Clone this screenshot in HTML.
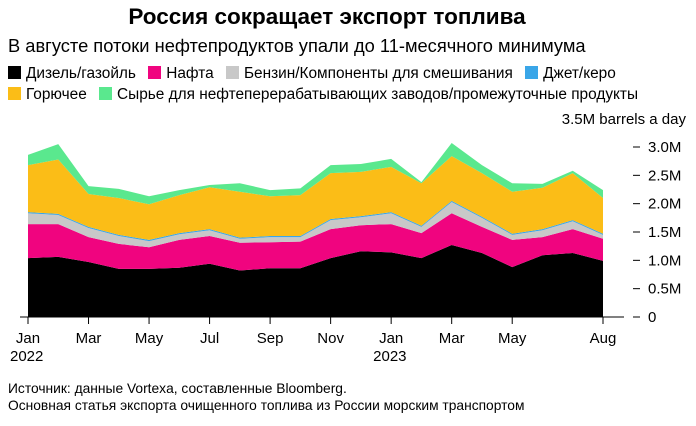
<!DOCTYPE html>
<html><head><meta charset="utf-8"><style>
body{margin:0;background:#fff;font-family:"Liberation Sans",sans-serif;}
#wrap{position:relative;width:696px;height:426px;overflow:hidden}
.t{position:absolute;white-space:nowrap;color:#000}
.sw{display:inline-block;width:13px;height:13px;vertical-align:-1px;margin-right:5px}
.leg{margin-right:8px}
</style></head><body><div id="wrap">
<div class="t" style="left:0;width:654px;text-align:center;top:4px;font-size:22.5px;font-weight:bold">Россия сокращает экспорт топлива</div>
<div class="t" style="left:8px;top:35px;font-size:18.3px">В августе потоки нефтепродуктов упали до 11-месячного минимума</div>
<div class="t" style="left:8px;top:63px;font-size:15.4px;line-height:21px">
<span class="leg"><span class="sw" style="background:#000"></span>Дизель/газойль</span>
<span class="leg"><span class="sw" style="background:#f0047f"></span>Нафта</span>
<span class="leg"><span class="sw" style="background:#c8c8c8"></span>Бензин/Компоненты для смешивания</span>
<span class="leg"><span class="sw" style="background:#3aa6e8"></span>Джет/керо</span><br>
<span class="leg"><span class="sw" style="background:#fbbd17"></span>Горючее</span>
<span class="leg"><span class="sw" style="background:#5ae88e"></span>Сырье для нефтеперерабатывающих заводов/промежуточные продукты</span>
</div>
<svg id="svg" width="696" height="426" style="position:absolute;left:0;top:0"></svg>
<div class="t" style="left:8px;top:380px;font-size:13.8px;line-height:17px">Источник: данные Vortexa, составленные Bloomberg.<br>Основная статья экспорта очищенного топлива из России морским транспортом</div>
</div>
<script>
const months=["Jan","","Mar","","May","","Jul","","Sep","","Nov","","Jan","","Mar","","May","","","Aug"];
const years=["2022","","","","","","","","","","","","2023","","","","","","",""];
const diesel=[1.04,1.06,0.97,0.85,0.85,0.87,0.94,0.82,0.86,0.86,1.04,1.16,1.14,1.04,1.27,1.13,0.88,1.09,1.13,0.99];
const naphtha=[0.60,0.58,0.44,0.44,0.38,0.49,0.49,0.49,0.46,0.47,0.51,0.46,0.50,0.44,0.56,0.46,0.48,0.32,0.42,0.39];
const gasoline=[0.19,0.16,0.16,0.14,0.11,0.10,0.10,0.07,0.09,0.08,0.16,0.14,0.19,0.11,0.20,0.16,0.09,0.12,0.14,0.07];
const jet=[0.02,0.02,0.02,0.02,0.02,0.02,0.02,0.02,0.02,0.02,0.02,0.02,0.02,0.02,0.02,0.02,0.02,0.02,0.02,0.02];
const fuelOil=[0.83,0.96,0.58,0.65,0.63,0.67,0.74,0.81,0.70,0.72,0.81,0.78,0.80,0.75,0.79,0.77,0.74,0.73,0.83,0.63];
const feedstock=[0.18,0.27,0.14,0.16,0.14,0.09,0.04,0.15,0.11,0.12,0.14,0.14,0.14,0.02,0.23,0.14,0.15,0.07,0.04,0.14];
const yTicks=[0,0.5,1,1.5,2,2.5,3];
const yLabels=["0","0.5M","1.0M","1.5M","2.0M","2.5M","3.0M"];
const NS="http://www.w3.org/2000/svg",svg=document.getElementById("svg");
const X=i=>28+i*(603-28)/(months.length-1);
const Y=v=>317-v*(170/3);
function mk(t,a){const e=document.createElementNS(NS,t);for(const k in a)e.setAttribute(k,a[k]);svg.appendChild(e);return e;}
const series=[[diesel,"#000","area-diesel"],[naphtha,"#f0047f","area-naphtha"],[gasoline,"#c8c8c8","area-gasoline"],[jet,"#3aa6e8","area-jet"],[fuelOil,"#fbbd17","area-fuel-oil"],[feedstock,"#5ae88e","area-feedstock"]];
let base=diesel.map(()=>0);
series.forEach(([d,c,n])=>{
  const top=base.map((b,i)=>b+d[i]);
  let p=top.map((v,i)=>(i?"L":"M")+X(i)+","+Y(v)).join("");
  for(let i=base.length-1;i>=0;i--)p+="L"+X(i)+","+Y(base[i]);
  const el=mk("path",{d:p+"Z",fill:c});
  
  
  base=top;
});
const ax=mk("line",{x1:20,x2:624,y1:317,y2:317,stroke:"#000","stroke-width":1});


months.forEach((m,i)=>{
  if(!m)return;
  mk("line",{x1:X(i),x2:X(i),y1:317,y2:324,stroke:"#000"});
  const t=mk("text",{x:X(i),y:343,"text-anchor":"middle","font-size":15,"font-family":"Liberation Sans, sans-serif"});
  t.textContent=m;
  
  
  if(years[i]){const y=mk("text",{x:X(i)-18,y:361,"font-size":15,"font-family":"Liberation Sans, sans-serif"});y.textContent=years[i];
  
  }
});
yTicks.forEach((v,i)=>{
  mk("line",{x1:633,x2:640,y1:Y(v),y2:Y(v),stroke:"#000"});
  const t=mk("text",{x:648,y:Y(v)+5,"font-size":15,"font-family":"Liberation Sans, sans-serif"});
  t.textContent=yLabels[i];
  
  
});
const u=mk("text",{x:686,y:124,"text-anchor":"end","font-size":15,"font-family":"Liberation Sans, sans-serif"});
u.textContent="3.5M barrels a day";


</script></body></html>
